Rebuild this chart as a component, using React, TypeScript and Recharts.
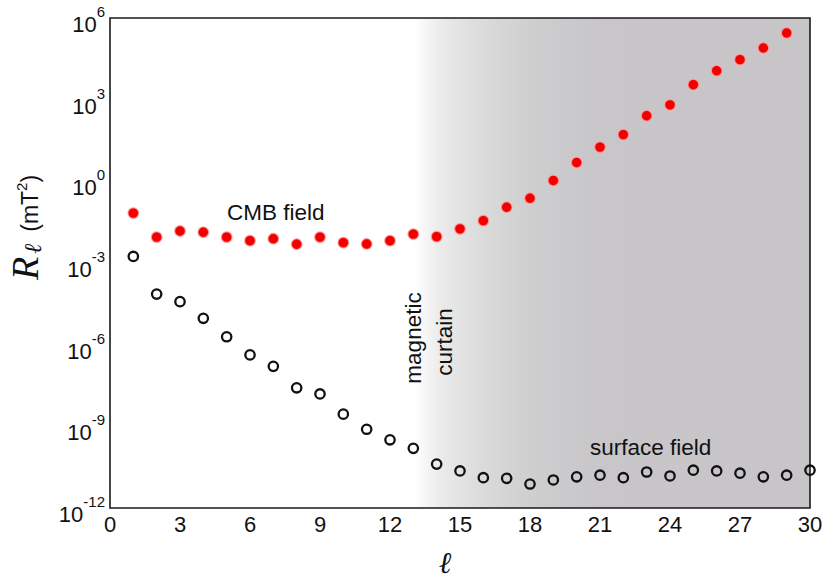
import { ScatterChart, Scatter, XAxis, YAxis, ReferenceArea } from "recharts";

// harmonic degree l
const degrees = [
  1, 2, 3, 4, 5, 6, 7, 8, 9, 10, 11, 12, 13, 14, 15, 16, 17, 18, 19, 20, 21,
  22, 23, 24, 25, 26, 27, 28, 29, 30,
];

// R_l at the core-mantle boundary (mT^2), l = 1..29
const cmbField = [
  6.8e-2, 8.9e-3, 1.5e-2, 1.35e-2, 8.9e-3, 6.6e-3, 7.8e-3, 4.9e-3, 8.9e-3,
  5.6e-3, 5.0e-3, 6.6e-3, 1.15e-2, 9.3e-3, 1.8e-2, 3.6e-2, 0.112, 0.24, 1.07,
  4.9, 18, 52, 257, 645, 3550, 11500, 29500, 79400, 282000,
];

// R_l at the surface (mT^2), l = 1..30
const surfaceField = [
  1.74e-3, 7.2e-5, 3.8e-5, 9.3e-6, 1.95e-6, 4.2e-7, 1.6e-7, 2.6e-8, 1.55e-8,
  2.8e-9, 7.8e-10, 3.2e-10, 1.55e-10, 4.1e-11, 2.3e-11, 1.3e-11, 1.23e-11,
  7.6e-12, 1.07e-11, 1.4e-11, 1.6e-11, 1.3e-11, 2.1e-11, 1.5e-11, 2.45e-11,
  2.3e-11, 1.9e-11, 1.4e-11, 1.6e-11, 2.45e-11,
];

const xTicks = [0, 3, 6, 9, 12, 15, 18, 21, 24, 27, 30];
const yTicks = [1e-12, 1e-9, 1e-6, 1e-3, 1, 1e3, 1e6];

const cmbData = cmbField.map((r, i) => ({ l: degrees[i], r }));
const surfaceData = surfaceField.map((r, i) => ({ l: degrees[i], r }));

const sans = "'Liberation Sans', Arial, Helvetica, sans-serif";
const serif = "'DejaVu Serif', 'Liberation Serif', serif";

const RedDot = (p: any) => (
  <circle
    cx={p.cx}
    cy={p.cy}
    r={5.4}
    fill="#f20000"
    stroke="#ffaaaa"
    strokeOpacity={0.7}
    strokeWidth={1.4}
  />
);

const OpenDot = (p: any) => (
  <circle cx={p.cx} cy={p.cy} r={4.7} fill="none" stroke="#111" strokeWidth={2.3} />
);

const XTick = ({ x, y, payload }: any) => (
  <text x={x} y={y + 24} textAnchor="middle" fontFamily={sans} fontSize={22} fill="#111">
    {payload.value}
  </text>
);

const YTick = ({ x, y, payload }: any) => {
  const exp = Math.round(Math.log10(payload.value));
  return (
    <text x={x - 5} y={y + 14} textAnchor="end" fontFamily={sans} fontSize={22} fill="#111">
      10
      <tspan fontSize={15} dy={-15}>
        {exp}
      </tspan>
    </text>
  );
};

const YTitle = () => (
  <text transform="translate(38,280) rotate(-90)" fontFamily={sans} fill="#111">
    <tspan fontFamily="'Liberation Serif', serif" fontStyle="italic" fontSize={38}>
      R
    </tspan>
    <tspan fontFamily={serif} fontStyle="italic" fontSize={24} dx={3} dy={3}>
      ℓ
    </tspan>
    <tspan fontSize={23} dx={12} dy={-3}>
      (mT
    </tspan>
    <tspan fontSize={15} dy={-11}>
      2
    </tspan>
    <tspan fontSize={23} dy={11}>
      )
    </tspan>
  </text>
);

const XTitle = () => (
  <text x={445} y={573} textAnchor="middle" fontFamily={serif} fontStyle="italic" fontSize={30} fill="#111">
    ℓ
  </text>
);

export default function App() {
  return (
    <div style={{ position: "absolute", left: 0, top: 0, width: 825, height: 581, background: "#fff" }}>
      <ScatterChart width={825} height={581} margin={{ top: 18, right: 15, bottom: 33, left: 10 }}>
        <defs>
          <linearGradient id="curtain" x1="0" y1="0" x2="1" y2="0">
            <stop offset="0" stopColor="#ffffff" />
            <stop offset="0.068" stopColor="#ebebeb" />
            <stop offset="0.143" stopColor="#dfdfdf" />
            <stop offset="0.219" stopColor="#d6d6d6" />
            <stop offset="0.295" stopColor="#d0cfd0" />
            <stop offset="0.37" stopColor="#cbcacc" />
            <stop offset="0.47" stopColor="#c8c6c9" />
            <stop offset="1" stopColor="#c7c5c8" />
          </linearGradient>
        </defs>
        <XAxis
          type="number"
          dataKey="l"
          domain={[0, 30]}
          ticks={xTicks}
          height={40}
          tickSize={0}
          tickMargin={0}
          tickLine={false}
          axisLine={false}
          tick={<XTick />}
          label={{ content: () => <XTitle /> }}
        />
        <YAxis
          type="number"
          dataKey="r"
          scale="log"
          domain={[1e-12, 1e6]}
          allowDataOverflow
          ticks={yTicks}
          width={100}
          tickSize={0}
          tickMargin={0}
          tickLine={false}
          axisLine={false}
          tick={<YTick />}
          label={{ content: () => <YTitle /> }}
        />
        <ReferenceArea x1={13} x2={30} y1={1e-12} y2={1e6} fill="url(#curtain)" fillOpacity={1} stroke="none" />
        <ReferenceArea x1={0} x2={30} y1={1e-12} y2={1e6} fill="none" stroke="#1a1a1a" strokeWidth={1.6} />
        <Scatter data={surfaceData} shape={<OpenDot />} isAnimationActive={false} />
        <Scatter data={cmbData} shape={<RedDot />} isAnimationActive={false} />
      </ScatterChart>
      <svg
        width={825}
        height={581}
        style={{ position: "absolute", left: 0, top: 0, pointerEvents: "none" }}
        fontFamily={sans}
        fontSize={22.5}
        fill="#111"
      >
        <text x={227} y={220}>CMB field</text>
        <text x={590} y={455}>surface field</text>
        <text transform="translate(421,338) rotate(-90)" textAnchor="middle">magnetic</text>
        <text transform="translate(452,342) rotate(-90)" textAnchor="middle">curtain</text>
      </svg>
    </div>
  );
}
